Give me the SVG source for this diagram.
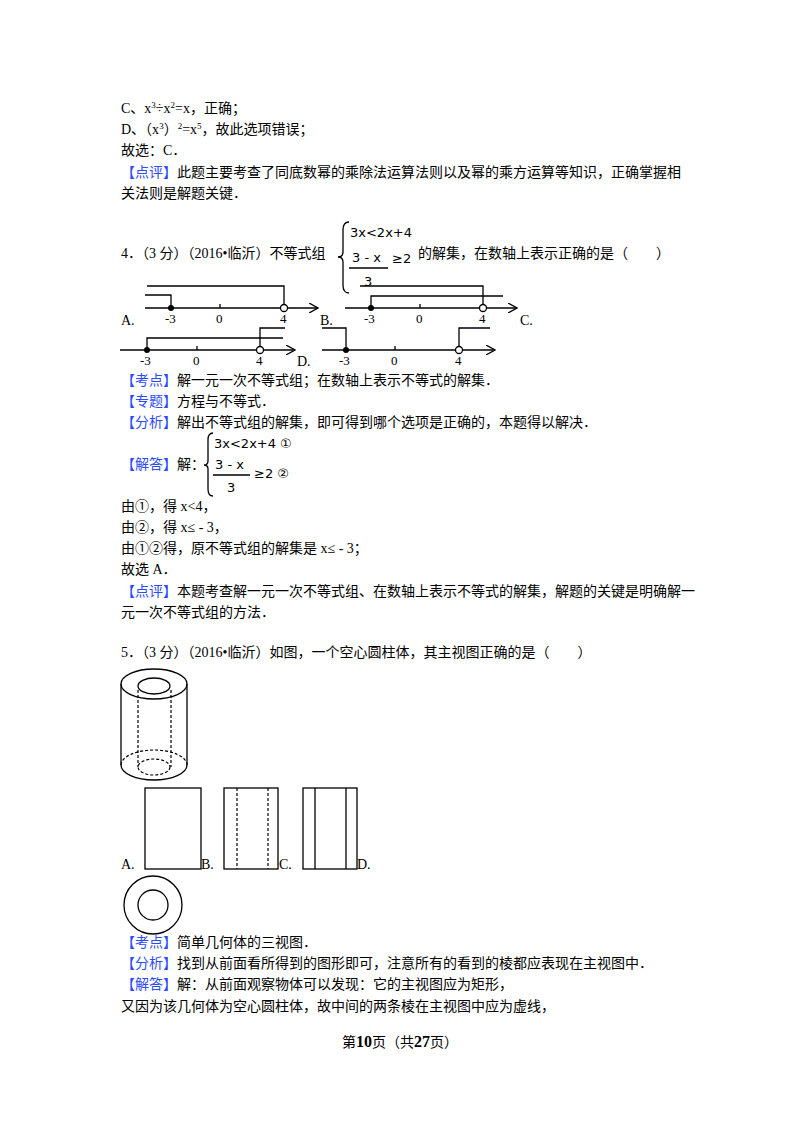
<svg xmlns="http://www.w3.org/2000/svg" width="800" height="1132" viewBox="0 0 800 1132">
<style>
text{font-family:"Liberation Serif","Noto Sans CJK SC",serif;font-size:14px;fill:#000}
.b{fill:#2b4bff}
.m{font-family:"DejaVu Sans","Liberation Sans",sans-serif;font-size:13px}
.l{stroke:#000;stroke-width:1.3;fill:none}
.d{stroke:#000;stroke-width:1.2;fill:none;stroke-dasharray:3,2}
.sm{font-size:13px}
</style>
<defs><marker id="ar" markerWidth="10" markerHeight="10" refX="9" refY="5" orient="auto" markerUnits="userSpaceOnUse"><path d="M0,0 L9,5 L0,10" fill="none" stroke="#000" stroke-width="1.3"/></marker></defs>
<rect width="800" height="1132" fill="#fff"/>
<text x="121" y="113">C、x<tspan dy="-5" font-size="9">3</tspan><tspan dy="5">÷x</tspan><tspan dy="-5" font-size="9">2</tspan><tspan dy="5">=x，正确；</tspan></text>
<text x="121" y="134">D、（x<tspan dy="-5" font-size="9">3</tspan><tspan dy="5">）</tspan><tspan dy="-5" font-size="9">2</tspan><tspan dy="5">=x</tspan><tspan dy="-5" font-size="9">5</tspan><tspan dy="5">，故此选项错误；</tspan></text>
<text x="121" y="155">故选：C．</text>
<text x="121" y="177"><tspan class="b">【点评】</tspan>此题主要考查了同底数幂的乘除法运算法则以及幂的乘方运算等知识，正确掌握相</text>
<text x="121" y="198">关法则是解题关键．</text>

<text x="121" y="258">4．（3 分）（2016•临沂）不等式组</text>
<path class="l" d="M349,222 Q343,222 343,230 L343,252 Q343,257 338,257 Q343,257 343,262 L343,285 Q343,293 349,293"/>
<text class="m" x="350" y="237">3x&lt;2x+4</text>
<text class="m" x="352" y="262">3 - x</text>
<line class="l" x1="349" y1="268" x2="388" y2="268"/>
<text class="m" x="364" y="286">3</text>
<text class="m" x="392" y="263" font-size="15">≥2</text>
<text x="418" y="258">的解集，在数轴上表示正确的是（　　）</text>

<g id="numlines">
<line class="l" x1="145" y1="308" x2="318" y2="308" marker-end="url(#ar)"/>
<line class="l" x1="220" y1="304" x2="220" y2="308"/>
<path class="l" d="M147,286 H284 V308 M145,295 H171 V308"/>
<circle cx="171" cy="308" r="3" fill="#000"/><circle cx="284" cy="308" r="3.5" fill="#fff" stroke="#000" stroke-width="1.3"/>
<text class="sm" x="165" y="323">-3</text><text class="sm" x="216" y="323">0</text><text class="sm" x="280" y="323">4</text>
<text x="121" y="325">A.</text>

<line class="l" x1="345" y1="308" x2="517" y2="308" marker-end="url(#ar)"/>
<line class="l" x1="420" y1="304" x2="420" y2="308"/>
<path class="l" d="M360,286 H483 V308 M503,296 H371 V308"/>
<circle cx="371" cy="308" r="3" fill="#000"/><circle cx="483" cy="308" r="3.5" fill="#fff" stroke="#000" stroke-width="1.3"/>
<text class="sm" x="364" y="323">-3</text><text class="sm" x="416" y="323">0</text><text class="sm" x="479" y="323">4</text>
<text x="320" y="325">B.</text><text x="520" y="325">C.</text>

<line class="l" x1="120" y1="350" x2="295" y2="350" marker-end="url(#ar)"/>
<line class="l" x1="197" y1="346" x2="197" y2="350"/>
<path class="l" d="M147,350 V338 H283 M260,350 V328 H285"/>
<circle cx="147" cy="350" r="3" fill="#000"/><circle cx="260" cy="350" r="3.5" fill="#fff" stroke="#000" stroke-width="1.3"/>
<text class="sm" x="140" y="365">-3</text><text class="sm" x="193" y="365">0</text><text class="sm" x="256" y="365">4</text>
<text x="297" y="366">D.</text>

<line class="l" x1="322" y1="350" x2="495" y2="350" marker-end="url(#ar)"/>
<line class="l" x1="395" y1="346" x2="395" y2="350"/>
<path class="l" d="M322,328 H346 V350 M459,350 V328 H490"/>
<circle cx="346" cy="350" r="3" fill="#000"/><circle cx="459" cy="350" r="3.5" fill="#fff" stroke="#000" stroke-width="1.3"/>
<text class="sm" x="339" y="365">-3</text><text class="sm" x="391" y="365">0</text><text class="sm" x="455" y="365">4</text>
</g>

<text x="121" y="385"><tspan class="b">【考点】</tspan>解一元一次不等式组；在数轴上表示不等式的解集．</text>
<text x="121" y="406"><tspan class="b">【专题】</tspan>方程与不等式．</text>
<text x="121" y="427"><tspan class="b">【分析】</tspan>解出不等式组的解集，即可得到哪个选项是正确的，本题得以解决．</text>
<text x="121" y="469"><tspan class="b">【解答】</tspan>解：</text>
<path class="l" d="M213,433 Q208,433 208,440 L208,461 Q208,465 204,465 Q208,465 208,469 L208,489 Q208,496 213,496"/>
<text class="m" x="214" y="448">3x&lt;2x+4 ①</text>
<text class="m" x="215" y="469">3 - x</text>
<line class="l" x1="213" y1="475" x2="250" y2="475"/>
<text class="m" x="227" y="492">3</text>
<text class="m" x="254" y="478">≥2  ②</text>
<text x="121" y="511">由①，得 x&lt;4，</text>
<text x="121" y="532">由②，得 x≤ - 3，</text>
<text x="121" y="553">由①②得，原不等式组的解集是 x≤ - 3；</text>
<text x="121" y="574">故选 A．</text>
<text x="121" y="596"><tspan class="b">【点评】</tspan>本题考查解一元一次不等式组、在数轴上表示不等式的解集，解题的关键是明确解一</text>
<text x="121" y="617">元一次不等式组的方法．</text>

<text x="121" y="657">5．（3 分）（2016•临沂）如图，一个空心圆柱体，其主视图正确的是（　　）</text>

<g id="cylinder">
<ellipse class="l" cx="154" cy="684" rx="33" ry="15"/>
<ellipse class="l" cx="154" cy="686" rx="16" ry="8"/>
<line class="l" x1="121" y1="684" x2="121" y2="765"/><line class="l" x1="187" y1="684" x2="187" y2="765"/>
<path class="l" d="M121,765 A33,15 0 0 0 187,765"/>
<path class="d" d="M121,765 A33,15 0 0 1 187,765"/>
<line class="d" x1="138" y1="690" x2="138" y2="767"/><line class="d" x1="171" y1="690" x2="171" y2="767"/>
<ellipse class="d" cx="154" cy="767" rx="16" ry="8"/>
</g>
<g id="options">
<rect class="l" x="145" y="788" width="56" height="81"/>
<rect class="l" x="224" y="788" width="54" height="81"/>
<line class="d" x1="237" y1="788" x2="237" y2="869"/><line class="d" x1="268" y1="788" x2="268" y2="869"/>
<rect class="l" x="303" y="788" width="54" height="81"/>
<line class="l" x1="315" y1="788" x2="315" y2="869"/><line class="l" x1="346" y1="788" x2="346" y2="869"/>
<text x="121" y="869">A.</text><text x="201" y="869">B.</text><text x="279" y="869">C.</text><text x="357" y="869">D.</text>
<circle class="l" cx="153" cy="905" r="29"/><circle class="l" cx="153" cy="905" r="15"/>
</g>

<text x="121" y="947"><tspan class="b">【考点】</tspan>简单几何体的三视图．</text>
<text x="121" y="968"><tspan class="b">【分析】</tspan>找到从前面看所得到的图形即可，注意所有的看到的棱都应表现在主视图中．</text>
<text x="121" y="989"><tspan class="b">【解答】</tspan>解：从前面观察物体可以发现：它的主视图应为矩形，</text>
<text x="121" y="1011">又因为该几何体为空心圆柱体，故中间的两条棱在主视图中应为虚线，</text>
<text x="400" y="1047" text-anchor="middle" font-size="13">第<tspan font-weight="bold" font-size="16">10</tspan>页（共<tspan font-weight="bold" font-size="16">27</tspan>页）</text>
</svg>
